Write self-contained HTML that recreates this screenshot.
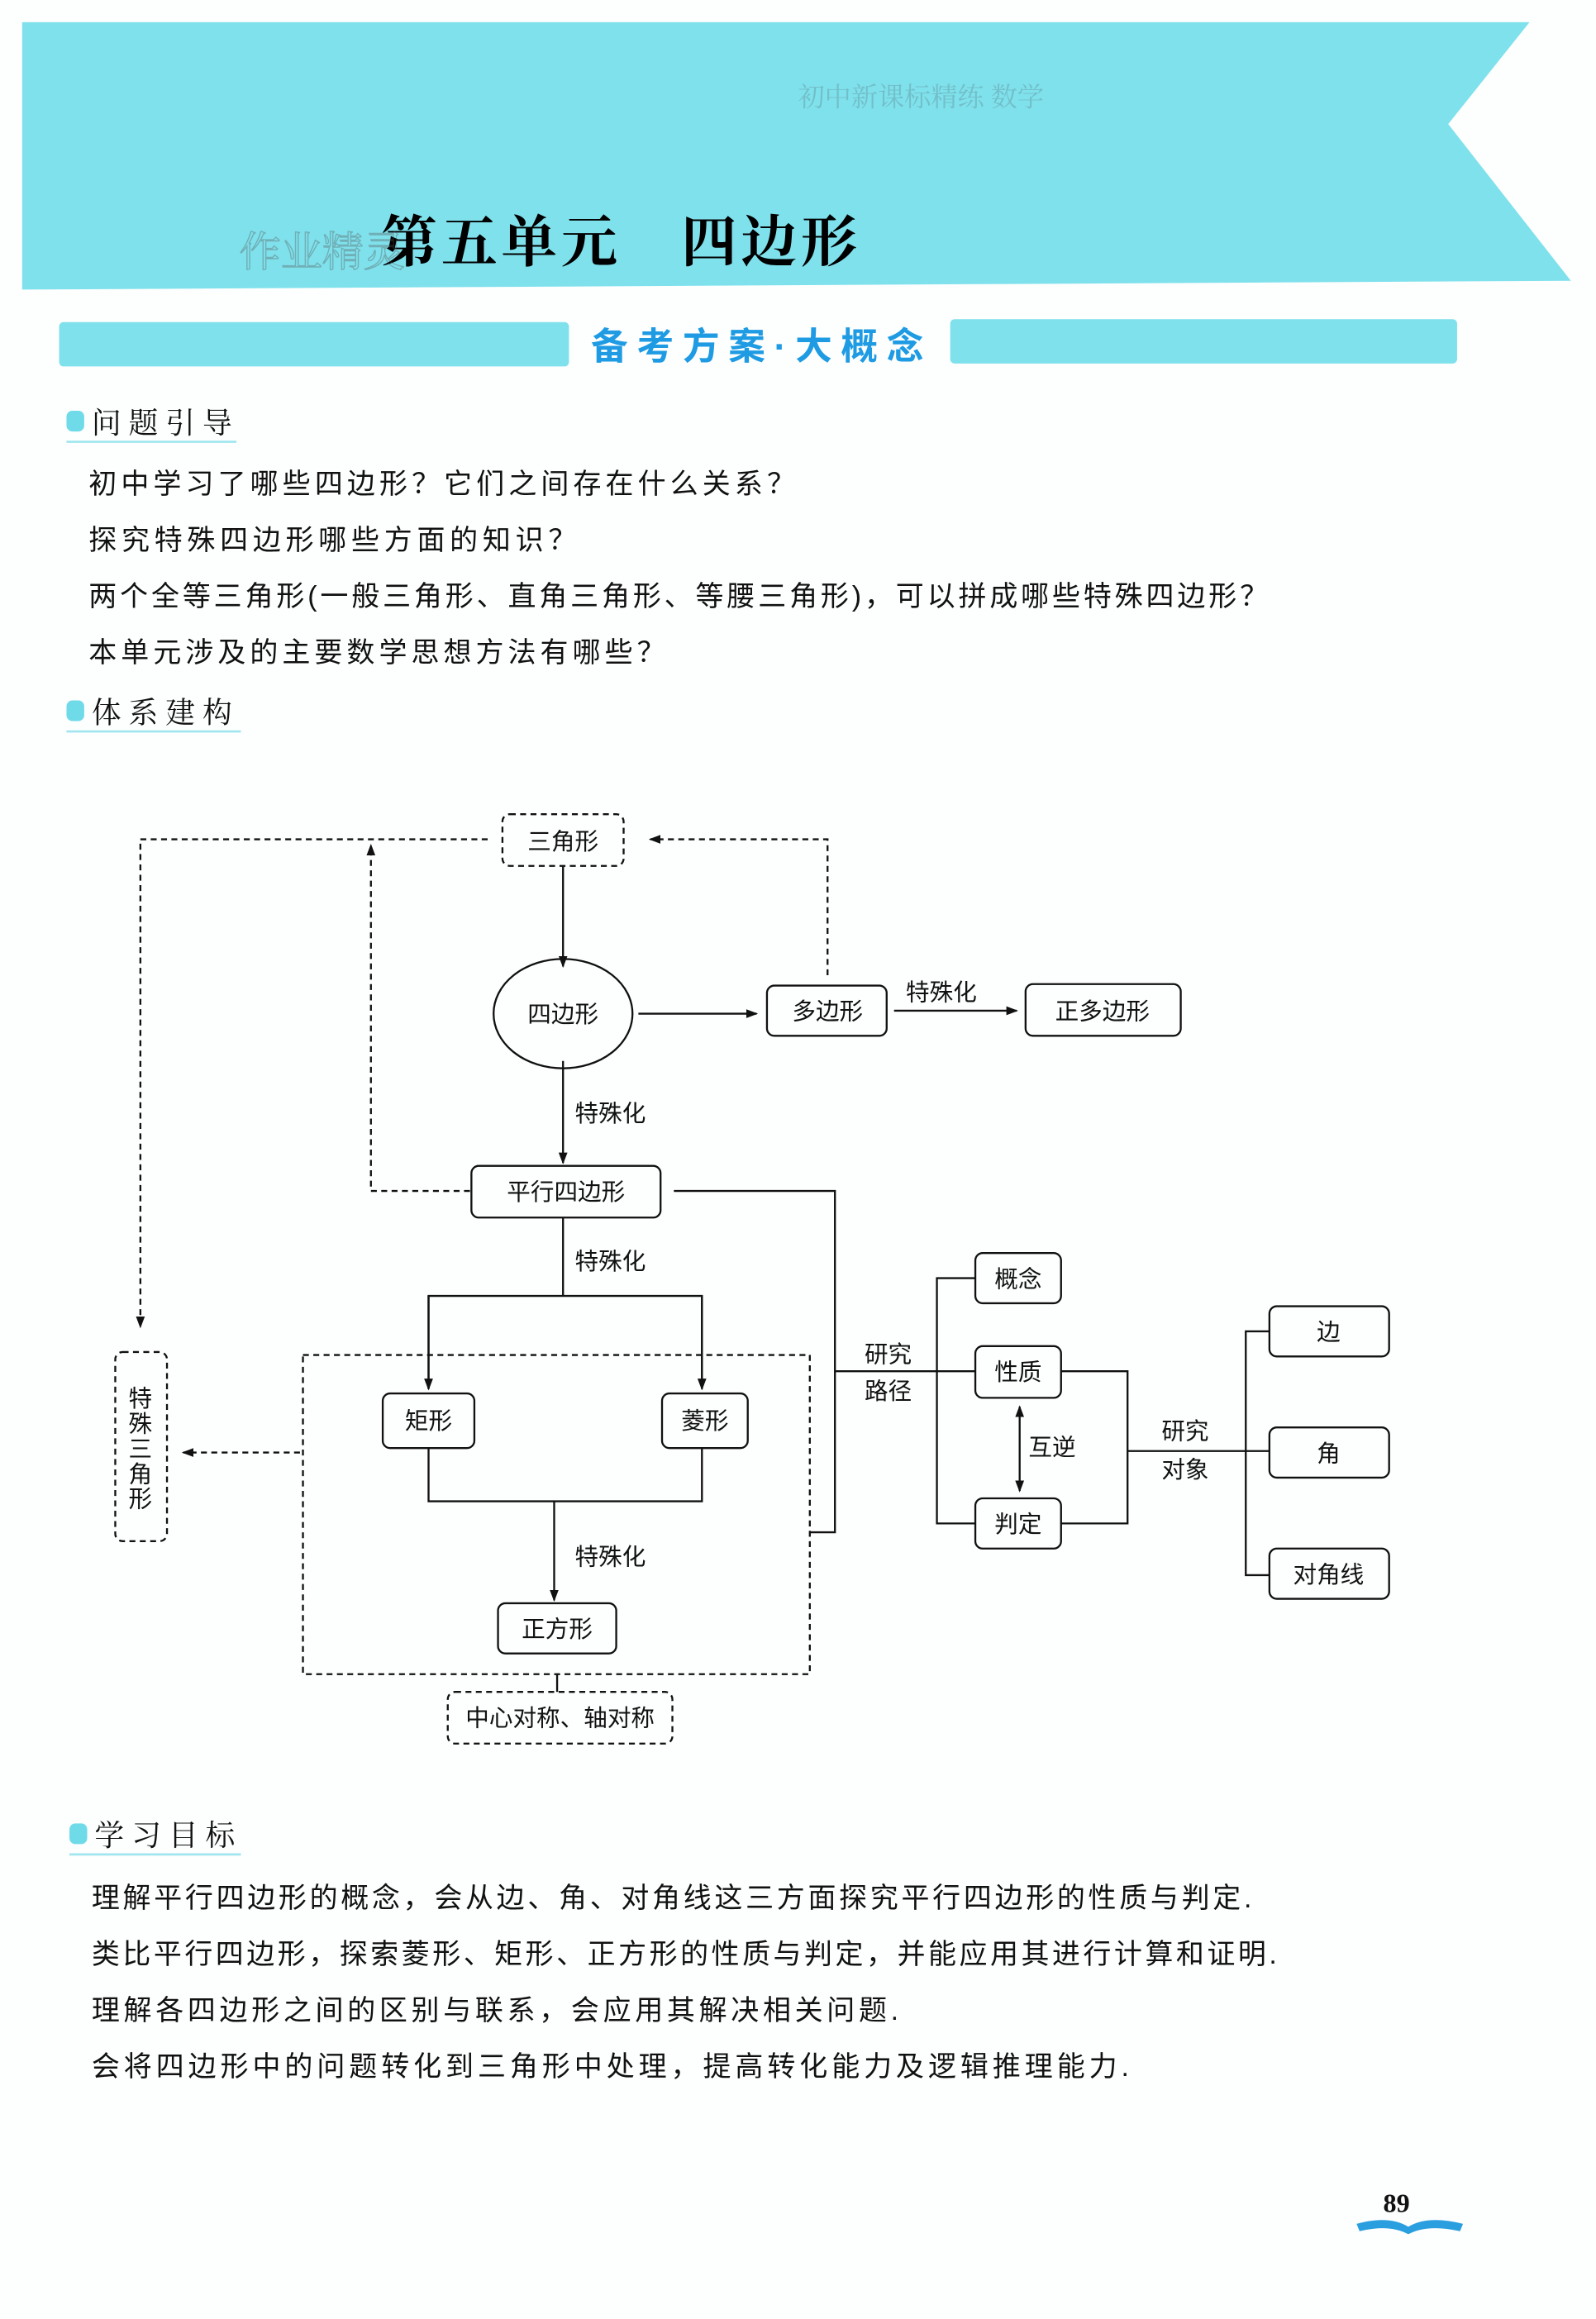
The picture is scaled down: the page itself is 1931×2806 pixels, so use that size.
<!DOCTYPE html>
<html><head><meta charset="utf-8"><style>
html,body{margin:0;padding:0;background:#fff;}
svg{display:block;}
text{font-family:"Liberation Serif","Noto Serif CJK SC","Noto Sans CJK SC",serif;fill:#111;}
.s{font-family:"Liberation Sans","Noto Sans CJK SC",sans-serif;}
</style></head><body>
<svg width="1931" height="2806" viewBox="0 0 1080 1569.4" preserveAspectRatio="none" xmlns="http://www.w3.org/2000/svg">
<rect width="1080" height="1570" fill="#fdfefe"/>
<!-- header band -->
<polygon points="15,15 1035,15 980,84 1063,190 15,196" fill="#7fe1ec"/>
<text x="540" y="72" font-size="18" fill="#6aa9b3" style="fill:#6aa9b3" opacity="0.6">初中新课标精练 数学</text>
<text x="258" y="177" font-size="38" font-weight="bold" textLength="322" style="fill:#000">第五单元　四边形</text>
<text x="162" y="180" font-size="28" opacity="0.35" style="fill:none;stroke:#555;stroke-width:0.8">作业精灵</text>
<!-- banner -->
<rect x="40" y="218" width="345" height="30" rx="3" fill="#7fe1ec"/>
<rect x="643" y="216" width="343" height="30" rx="3" fill="#7fe1ec"/>
<text class="s" x="400" y="243" font-size="25" font-weight="bold" textLength="225" style="fill:#1e9be3">备考方案·大概念</text>
<!-- section 1 -->
<rect x="45" y="278" width="12" height="14" rx="4" fill="#6fdbe8"/>
<text x="62" y="293" font-size="20" textLength="95">问题引导</text>
<line x1="45" y1="299" x2="160" y2="299" stroke="#9fe6ee" stroke-width="1.5"/>
<g class="s" font-size="19">
<text class="s" x="60" y="334" font-size="19" textLength="478">初中学习了哪些四边形？它们之间存在什么关系？</text>
<text class="s" x="60" y="372" font-size="19" textLength="330">探究特殊四边形哪些方面的知识？</text>
<text class="s" x="60" y="410" font-size="19" textLength="798">两个全等三角形(一般三角形、直角三角形、等腰三角形)，可以拼成哪些特殊四边形？</text>
<text class="s" x="60" y="448" font-size="19" textLength="390">本单元涉及的主要数学思想方法有哪些？</text>
</g>
<rect x="45" y="474" width="12" height="14" rx="4" fill="#6fdbe8"/>
<text x="62" y="489" font-size="20" textLength="95">体系建构</text>
<line x1="45" y1="495" x2="163" y2="495" stroke="#9fe6ee" stroke-width="1.5"/>

<defs><marker id="a" markerWidth="8" markerHeight="8" refX="7" refY="4" orient="auto" markerUnits="userSpaceOnUse"><path d="M0,1 L8,4 L0,7 z" fill="#111"/></marker>
<marker id="b" markerWidth="8" markerHeight="8" refX="1" refY="4" orient="auto" markerUnits="userSpaceOnUse"><path d="M8,1 L0,4 L8,7 z" fill="#111"/></marker></defs>
<g stroke="#111" stroke-width="1.3" fill="none">
<!-- dashed -->
<g stroke-dasharray="4,3">
<rect x="340" y="551" width="82" height="35" rx="5"/>
<polyline points="560,660 560,568 440,568" marker-end="url(#a)"/>
<polyline points="330,568 95,568 95,898" marker-end="url(#a)"/>
<polyline points="318,806 251,806 251,572" marker-end="url(#a)"/>
<rect x="205" y="917" width="343" height="216"/>
<line x1="203" y1="983" x2="124" y2="983" marker-end="url(#a)"/>
<rect x="78" y="915" width="35" height="128" rx="5"/>
<rect x="303" y="1145" width="152" height="35" rx="5"/>
</g>
<line x1="381" y1="586" x2="381" y2="654" marker-end="url(#a)"/>
<ellipse cx="381" cy="686" rx="47" ry="37"/>
<line x1="432" y1="686" x2="512" y2="686" marker-end="url(#a)"/>
<rect x="519" y="667" width="81" height="34" rx="5"/>
<line x1="605" y1="684" x2="688" y2="684" marker-end="url(#a)"/>
<rect x="694" y="666" width="105" height="35" rx="5"/>
<line x1="381" y1="718" x2="381" y2="787" marker-end="url(#a)"/>
<rect x="319" y="789" width="128" height="35" rx="5"/>
<polyline points="456,806 565,806 565,1037 548,1037"/>
<line x1="381" y1="824" x2="381" y2="877"/>
<polyline points="290,940 290,877 475,877 475,940"/>
<line x1="290" y1="877" x2="290" y2="940" marker-end="url(#a)"/>
<line x1="475" y1="877" x2="475" y2="940" marker-end="url(#a)"/>
<rect x="259" y="943" width="62" height="37" rx="5"/>
<rect x="448" y="943" width="58" height="37" rx="5"/>
<polyline points="290,980 290,1016 475,1016 475,980"/>
<line x1="375" y1="1016" x2="375" y2="1083" marker-end="url(#a)"/>
<rect x="337" y="1085" width="80" height="34" rx="5"/>
<line x1="377" y1="1133" x2="377" y2="1145"/>
<line x1="565" y1="928" x2="660" y2="928"/>
<polyline points="660,865 634,865 634,1031 660,1031"/>
<rect x="660" y="848" width="58" height="34" rx="5"/>
<rect x="660" y="911" width="58" height="35" rx="5"/>
<rect x="660" y="1014" width="58" height="34" rx="5"/>
<line x1="690" y1="952" x2="690" y2="1009" marker-start="url(#b)" marker-end="url(#a)"/>
<polyline points="718,928 763,928 763,1031 718,1031"/>
<line x1="763" y1="982" x2="859" y2="982"/>
<polyline points="859,901 843,901 843,1066 859,1066"/>
<rect x="859" y="884" width="81" height="34" rx="5"/>
<rect x="859" y="966" width="81" height="34" rx="5"/>
<rect x="859" y="1048" width="81" height="34" rx="5"/>
</g>
<g class="s" font-size="16" text-anchor="middle">
<text class="s" x="381" y="575">三角形</text>
<text class="s" x="381" y="692">四边形</text>
<text class="s" x="560" y="690">多边形</text>
<text class="s" x="637" y="677">特殊化</text>
<text class="s" x="746" y="690">正多边形</text>
<text class="s" x="413" y="759">特殊化</text>
<text class="s" x="383" y="812">平行四边形</text>
<text class="s" x="413" y="859">特殊化</text>
<text class="s" x="290" y="967">矩形</text>
<text class="s" x="477" y="967">菱形</text>
<text class="s" x="413" y="1059">特殊化</text>
<text class="s" x="377" y="1108">正方形</text>
<text class="s" x="379" y="1168">中心对称、轴对称</text>
<text class="s" x="601" y="922">研究</text>
<text class="s" x="601" y="947">路径</text>
<text class="s" x="689" y="871">概念</text>
<text class="s" x="689" y="934">性质</text>
<text class="s" x="689" y="1037">判定</text>
<text class="s" x="712" y="985">互逆</text>
<text class="s" x="802" y="974">研究</text>
<text class="s" x="802" y="1000">对象</text>
<text class="s" x="899" y="907">边</text>
<text class="s" x="899" y="989">角</text>
<text class="s" x="899" y="1071">对角线</text>
<text class="s" x="95" y="952">特</text>
<text class="s" x="95" y="969">殊</text>
<text class="s" x="95" y="986">三</text>
<text class="s" x="95" y="1003">角</text>
<text class="s" x="95" y="1020">形</text>
</g>
<!-- section 3 -->
<rect x="47" y="1234" width="12" height="14" rx="4" fill="#6fdbe8"/>
<text x="64" y="1249" font-size="20" textLength="95">学习目标</text>
<line x1="47" y1="1255" x2="163" y2="1255" stroke="#9fe6ee" stroke-width="1.5"/>
<text class="s" x="62" y="1291" font-size="19" textLength="785">理解平行四边形的概念，会从边、角、对角线这三方面探究平行四边形的性质与判定.</text>
<text class="s" x="62" y="1329" font-size="19" textLength="802">类比平行四边形，探索菱形、矩形、正方形的性质与判定，并能应用其进行计算和证明.</text>
<text class="s" x="62" y="1367" font-size="19" textLength="546">理解各四边形之间的区别与联系，会应用其解决相关问题.</text>
<text class="s" x="62" y="1405" font-size="19" textLength="702">会将四边形中的问题转化到三角形中处理，提高转化能力及逻辑推理能力.</text>
<text x="936" y="1497" font-size="18" font-weight="bold">89</text>
<path d="M918,1505 Q940,1499 953,1507 Q966,1499 990,1505 L988,1510 Q966,1505 953,1512 Q940,1505 920,1510 z" fill="#2a9fe0"/>
</svg>
</body></html>
